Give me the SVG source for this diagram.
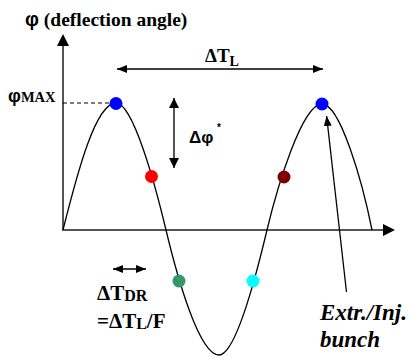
<svg xmlns="http://www.w3.org/2000/svg" width="410" height="357" viewBox="0 0 410 357">
<defs>
<marker id="ahs" markerWidth="10" markerHeight="8" refX="10" refY="4" orient="auto-start-reverse" markerUnits="userSpaceOnUse"><path d="M0,0 L10,4 L0,8 Z" fill="#000"/></marker>
<marker id="ahg" markerWidth="10" markerHeight="10" refX="10" refY="5" orient="auto-start-reverse" markerUnits="userSpaceOnUse"><path d="M0,0 L10,5 L0,10 Z" fill="#000"/></marker>
</defs>
<style>
.ax{stroke:#555;stroke-width:2;fill:none}
.ln{stroke:#000;stroke-width:1.3;fill:none}
.t{font-family:"Liberation Serif",serif;font-weight:bold;fill:#000}
.s{font-family:"Liberation Sans",sans-serif;font-weight:bold;fill:#000}
.it{font-family:"Liberation Serif",serif;font-weight:bold;font-style:italic;fill:#000}
.ph{font-family:"Liberation Sans",sans-serif;font-weight:bold}
</style>
<g id="axes">
<line class="ax" x1="63" y1="231" x2="63" y2="45"/>
<path d="M57,46 L63,34 L69,46 Z" fill="#000"/>
<line class="ax" x1="62" y1="230" x2="384" y2="230"/>
<path d="M383,224 L395,230 L383,236 Z" fill="#000"/>
</g>
<g id="curve">
<path class="ln" d="M63,230 C78,170 96,103 116,103 C133,103 155,184 166,230 C177,276 199,355 219,355 C236,355 257,272 267,230 C277,188 302,104 322,104 C340,104 362,180 372,230"/>
<line x1="63" y1="103" x2="110" y2="103" stroke="#000" stroke-width="1" stroke-dasharray="4,3"/>
</g>
<g id="connectors">
<line class="ln" x1="117" y1="69" x2="323" y2="69" marker-start="url(#ahs)" marker-end="url(#ahs)"/>
<line x1="174" y1="98" x2="174" y2="168" stroke="#555" stroke-width="2" marker-start="url(#ahg)" marker-end="url(#ahg)"/>
<line class="ln" x1="113" y1="269" x2="146" y2="269" marker-start="url(#ahs)" marker-end="url(#ahs)"/>
<line class="ln" x1="346.5" y1="292" x2="326.6" y2="116" marker-end="url(#ahs)"/>
</g>
<g id="n-peak1"><circle cx="116" cy="103.5" r="6.5" fill="#0000FF"/></g>
<g id="n-red"><circle cx="151.5" cy="176.5" r="6.5" fill="#FF0000"/></g>
<g id="n-green"><circle cx="179" cy="281" r="6.5" fill="#339966"/></g>
<g id="n-cyan"><circle cx="253" cy="281" r="6.5" fill="#00FFFF"/></g>
<g id="n-darkred"><circle cx="284" cy="177" r="6.5" fill="#800000"/></g>
<g id="n-peak2"><circle cx="322" cy="104" r="6.5" fill="#0000FF"/></g>
<g id="labels">
<text class="t" x="25" y="26" font-size="19.5"><tspan class="ph">φ</tspan> (deflection angle)</text>
<text class="t" x="8" y="102" font-size="18"><tspan class="ph">φ</tspan><tspan font-size="14.5">MAX</tspan></text>
<text class="t" x="205" y="62" font-size="19">ΔT<tspan font-size="14" dy="4">L</tspan></text>
<text class="s" x="189" y="143" font-size="17">Δφ</text>
<text class="s" x="217" y="131" font-size="10">*</text>
<text class="t" x="97" y="300" font-size="21">ΔT<tspan font-size="16" dy="1">DR</tspan></text>
<text class="t" x="97" y="328" font-size="21">=ΔT<tspan font-size="16" dy="1">L</tspan><tspan dy="-1">/F</tspan></text>
<text class="it" x="320" y="320" font-size="23">Extr./Inj.</text>
<text class="it" x="320" y="347" font-size="23">bunch</text>
</g>
</svg>
